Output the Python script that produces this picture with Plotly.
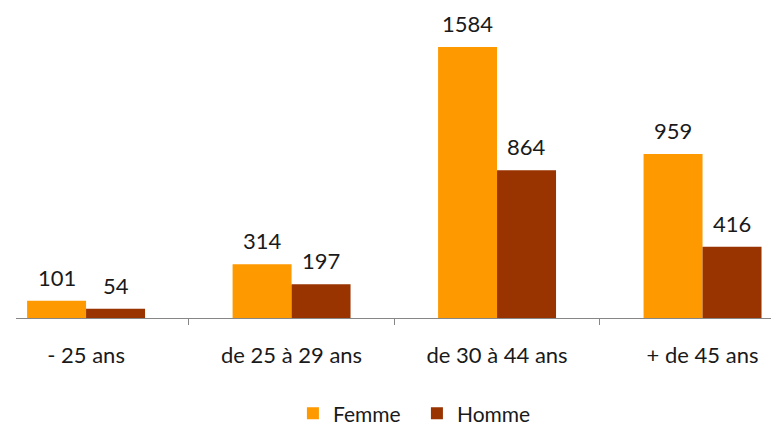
import plotly.graph_objects as go

categories = ["- 25 ans", "de 25 à 29 ans", "de 30 à 44 ans", "+ de 45 ans"]
femme = [101, 314, 1584, 959]
homme = [54, 197, 864, 416]
series_names = ["Femme", "Homme"]
colors = ["#FF9900", "#993300"]

FONT = "Lato"

fig = go.Figure()
for name, vals, col in zip(series_names, [femme, homme], colors):
    fig.add_trace(go.Bar(x=categories, y=vals, name=name, marker_color=col,
                         marker_line_width=0))

annotations = []
for k, vals in enumerate([femme, homme]):
    for i, v in enumerate(vals):
        annotations.append(dict(x=i, y=v, xref="x", yref="y", text=str(v),
                                showarrow=False, yanchor="bottom",
                                xshift=(-29.5 if k == 0 else 29.5), yshift=8,
                                font=dict(family=FONT, size=22, color="#1a1a1a")))

fig.update_layout(
    width=779, height=427,
    margin=dict(l=8, r=0, t=20, b=117, autoexpand=False),
    paper_bgcolor="white", plot_bgcolor="white",
    barmode="group", bargap=0.426, bargroupgap=0,
    showlegend=True,
    legend=dict(orientation="h", x=0.520, xanchor="center", y=-0.33, yanchor="middle",
                font=dict(family=FONT, size=21, color="#1a1a1a"),
                itemwidth=30, traceorder="normal", entrywidth=79,
                entrywidthmode="pixels", bgcolor="rgba(0,0,0,0)"),
    annotations=annotations,
    font=dict(family=FONT),
)
fig.update_xaxes(range=[-0.341, 3.411], showline=True, linecolor="#868686", linewidth=1.3,
                 ticks="outside", tickson="boundaries", ticklen=6, tickcolor="#868686",
                 tickwidth=1.3, showgrid=False, ticklabelstandoff=17,
                 tickfont=dict(family=FONT, size=22, color="#1a1a1a"))
fig.update_yaxes(range=[0, 1695], visible=False, showgrid=False, zeroline=False)

fig.write_html("out.html")
